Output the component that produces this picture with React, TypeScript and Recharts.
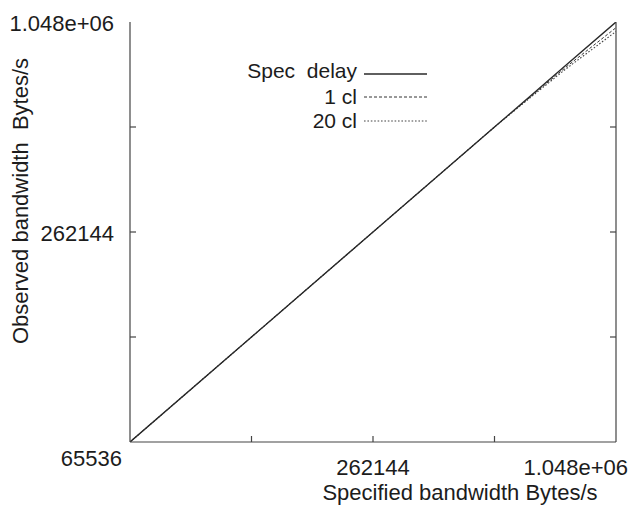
import React from 'react';
import { LineChart, Line, XAxis, YAxis, Legend } from 'recharts';

// values (log2 axes, Bytes/s)
const specified = [65536, 131072, 262144, 524288, 655360, 786432, 1048576];
const specDelay = [65536, 131072, 262144, 524288, 655360, 786432, 1048576];
const oneCl = [65536, 131072, 262144, 524288, 651000, 777000, 1010000];
const twentyCl = [65536, 131072, 262144, 524288, 648000, 768000, 985000];

const axisTicks = [65536, 131072, 262144, 524288, 1048576];
const xLabels: Record<number, string> = { 65536: '65536', 262144: '262144', 1048576: '1.048e+06' };
const yLabels: Record<number, string> = { 262144: '262144', 1048576: '1.048e+06' };

const data = specified.map((x, i) => ({
  x,
  spec: specDelay[i],
  oneCl: oneCl[i],
  twentyCl: twentyCl[i],
}));

const series = [
  { key: 'twentyCl', name: '20 cl', color: '#444', dash: '1.6 1.8', width: 1.1 },
  { key: 'oneCl', name: '1 cl', color: '#333', dash: '3 2', width: 1 },
  { key: 'spec', name: 'Spec  delay', color: '#2a2a2a', dash: undefined, width: 1.4 },
];

const FONT = '"Liberation Sans", Arial, Helvetica, sans-serif';
const TEXT = '#1c1c1c';
const AXIS = '#444';
const DOMAIN = [65536, 1048576];

const BottomTick = ({ x, y, payload }: any) => {
  const v = payload.value;
  const isEnd = v === DOMAIN[0] || v === DOMAIN[1];
  const label = xLabels[v];
  let anchor = 'middle';
  let tx = x;
  let ty = y + 33;
  if (v === DOMAIN[0]) { anchor = 'end'; tx = x - 8; ty = y + 24; }
  if (v === DOMAIN[1]) { anchor = 'end'; tx = x + 12; }
  return (
    <g>
      {!isEnd && <line x1={x} x2={x} y1={y} y2={y - 6} stroke={AXIS} strokeWidth={1.2} />}
      {label && (
        <text x={tx} y={ty} textAnchor={anchor} fontSize={22} fontFamily={FONT} fill={TEXT}>{label}</text>
      )}
    </g>
  );
};

const LeftTick = ({ x, y, payload }: any) => {
  const v = payload.value;
  const isEnd = v === DOMAIN[0] || v === DOMAIN[1];
  const label = yLabels[v];
  return (
    <g>
      {!isEnd && <line x1={x} x2={x + 6} y1={y} y2={y} stroke={AXIS} strokeWidth={1.2} />}
      {label && (
        <text x={x - 16} y={y + 9} textAnchor="end" fontSize={22} fontFamily={FONT} fill={TEXT}>{label}</text>
      )}
    </g>
  );
};

const RightTick = ({ x, y, payload }: any) => {
  const v = payload.value;
  if (v === DOMAIN[0] || v === DOMAIN[1]) return <g />;
  return <line x1={x} x2={x - 6} y1={y} y2={y} stroke={AXIS} strokeWidth={1.2} />;
};

const rowText = [23, 49, 73];
const rowLine = [19, 42, 66];

const KeyBox = () => (
  <svg width={230} height={80} style={{ display: 'block' }}>
    {[...series].reverse().map((s, i) => (
      <g key={s.key}>
        <text
          x={137}
          y={rowText[i]}
          textAnchor="end"
          fontSize={21}
          fontFamily={FONT}
          fill={TEXT}
          style={{ whiteSpace: 'pre' }}
        >
          {s.name}
        </text>
        <line
          x1={144}
          x2={207}
          y1={rowLine[i]}
          y2={rowLine[i]}
          stroke={s.color}
          strokeWidth={s.width}
          strokeDasharray={s.dash}
        />
      </g>
    ))}
  </svg>
);

export default function App() {
  return (
    <div style={{ position: 'absolute', left: 0, top: 0, width: 630, height: 507, background: '#fff' }}>
      <LineChart width={630} height={507} data={data} margin={{ top: 22, right: 0, left: 0, bottom: 0 }}>
        <XAxis
          dataKey="x"
          type="number"
          scale="log"
          domain={DOMAIN}
          allowDataOverflow
          ticks={axisTicks}
          height={65}
          tickSize={0}
          tickMargin={0}
          tickLine={false}
          tick={<BottomTick />}
          stroke={AXIS}
          strokeWidth={1.2}
          interval={0}
        />
        <YAxis
          yAxisId="l"
          type="number"
          scale="log"
          domain={DOMAIN}
          allowDataOverflow
          ticks={axisTicks}
          width={130}
          tickSize={0}
          tickMargin={0}
          tickLine={false}
          tick={<LeftTick />}
          stroke={AXIS}
          strokeWidth={1.2}
          interval={0}
        />
        <YAxis
          yAxisId="r"
          orientation="right"
          type="number"
          scale="log"
          domain={DOMAIN}
          allowDataOverflow
          ticks={axisTicks}
          width={14}
          tickSize={0}
          tickMargin={0}
          tickLine={false}
          tick={<RightTick />}
          stroke={AXIS}
          strokeWidth={1.2}
          interval={0}
        />
        <text
          x={20}
          y={201}
          transform="rotate(-90 20 201)"
          textAnchor="middle"
          dominantBaseline="central"
          fontSize={22}
          fontFamily={FONT}
          fill={TEXT}
          style={{ whiteSpace: 'pre' }}
        >
          Observed bandwidth  Bytes/s
        </text>
        <text x={460} y={500} textAnchor="middle" fontSize={22} fontFamily={FONT} fill={TEXT}>
          Specified bandwidth Bytes/s
        </text>
        {series.map((s) => (
          <Line
            key={s.key}
            yAxisId="l"
            dataKey={s.key}
            name={s.name}
            type="linear"
            stroke={s.color}
            strokeWidth={s.width}
            strokeDasharray={s.dash}
            dot={false}
            activeDot={false}
            isAnimationActive={false}
          />
        ))}
        <Legend
          layout="vertical"
          align="center"
          verticalAlign="middle"
          content={() => <KeyBox />}
          wrapperStyle={{ left: 220, top: 55, width: 230, height: 80 }}
        />
      </LineChart>
    </div>
  );
}
